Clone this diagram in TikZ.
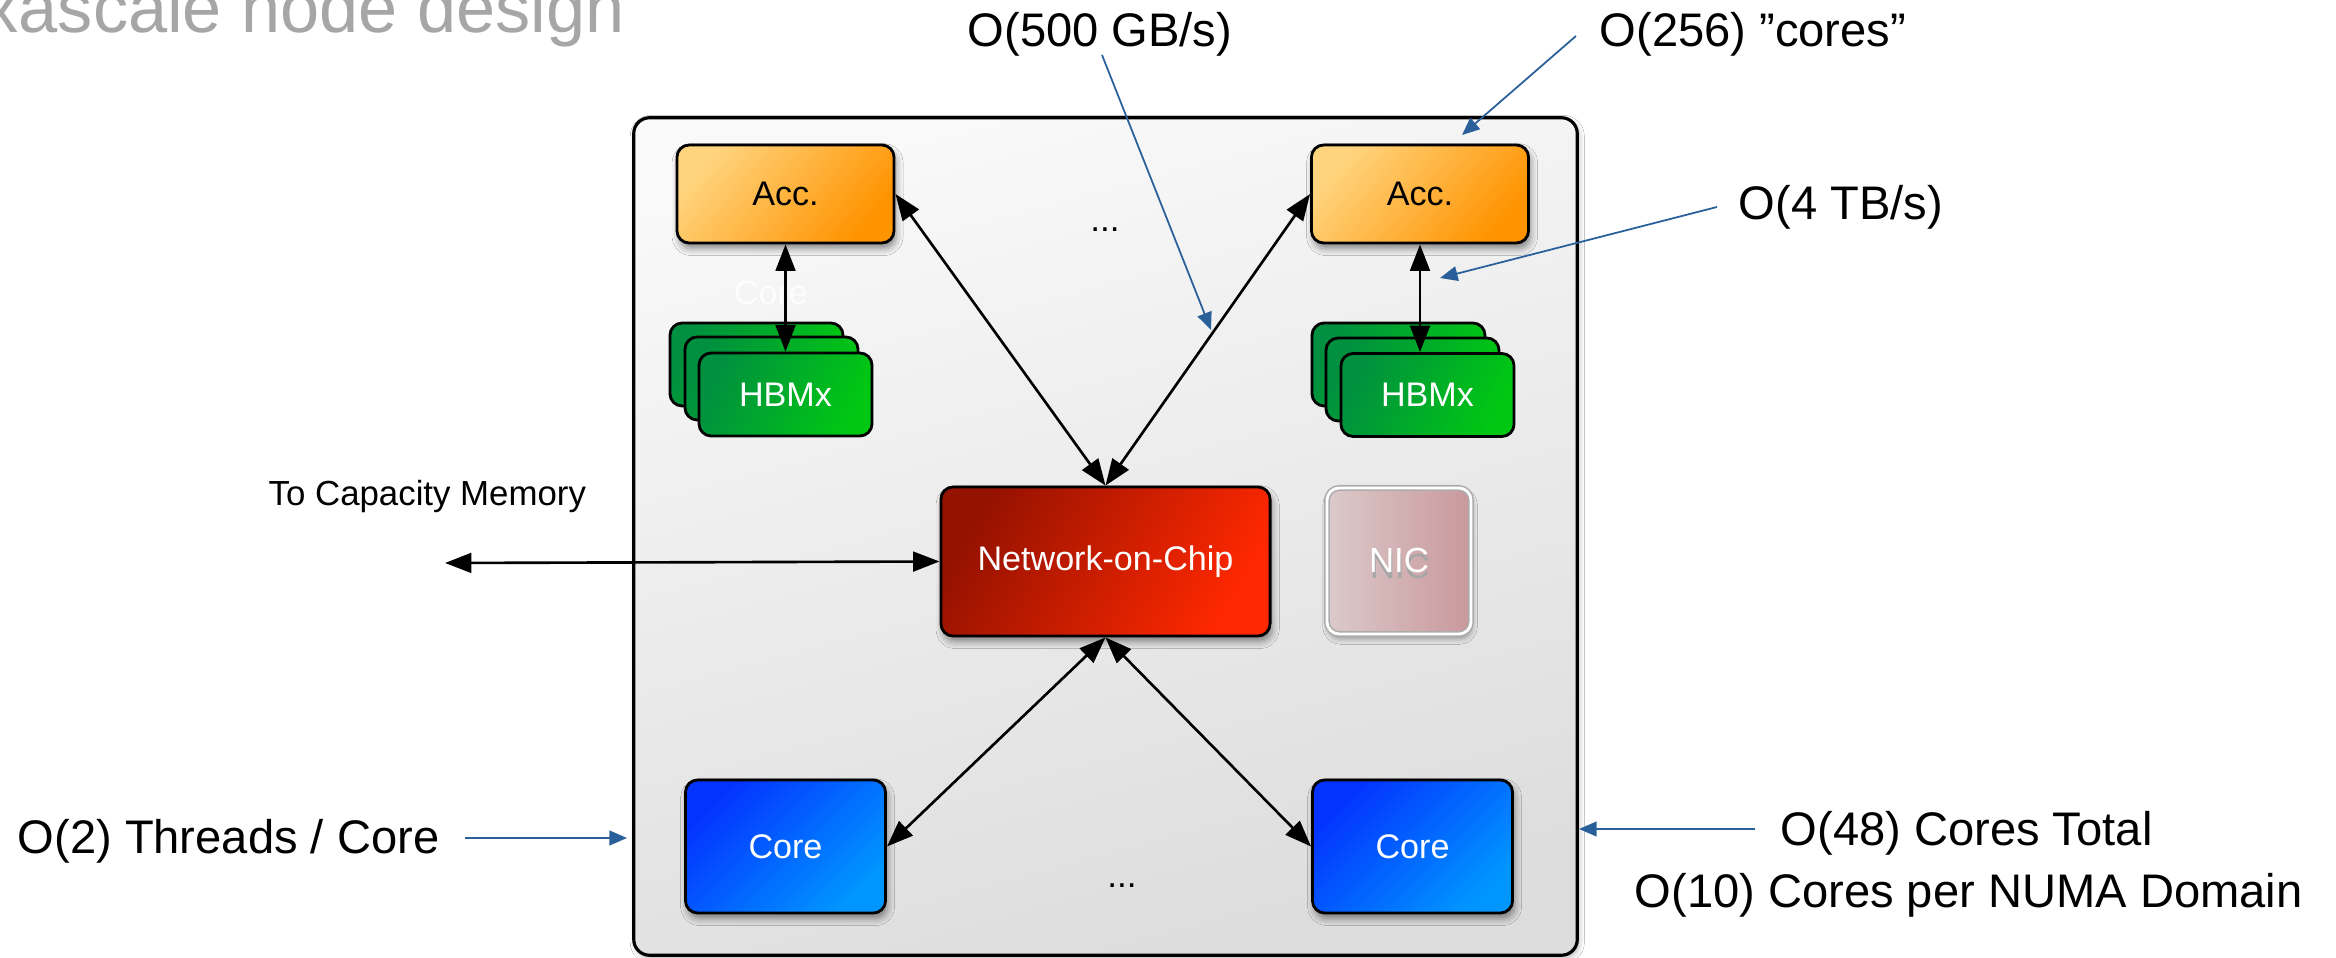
\documentclass[tikz,border=0pt]{standalone}
\usepackage{fontspec}
\setmainfont{Liberation Sans}
\usetikzlibrary{arrows.meta,shadows.blur}

\definecolor{titlegray}{HTML}{A6A6A6}
\definecolor{annot}{HTML}{2A6099}
\definecolor{accA}{HTML}{FFD47E}
\definecolor{accB}{HTML}{FF9300}
\definecolor{hbmA}{HTML}{00903F}
\definecolor{hbmB}{HTML}{00C812}
\definecolor{nocA}{HTML}{961200}
\definecolor{nocB}{HTML}{FF2800}
\definecolor{coreA}{HTML}{0433FF}
\definecolor{coreB}{HTML}{0096FF}
\definecolor{nicA}{HTML}{DCCACA}
\definecolor{nicB}{HTML}{C9989C}

\begin{document}
\begin{tikzpicture}[x=0.01cm,y=-0.01cm,
  unit/.style={draw=black, line width=0.8pt, rounded corners=3.5pt, inner sep=0pt,
    font=\fontsize{9.7}{11.5}\selectfont},
  dropped/.style={blur shadow={shadow xshift=0.6pt, shadow yshift=-1.6pt, shadow blur radius=2pt, shadow opacity=45}},
  accbox/.style={unit, dropped, minimum width=2.17cm, minimum height=0.98cm, text=black,
    top color=accA, bottom color=accB, shading angle=50},
  hbmbox/.style={unit, minimum width=1.73cm, minimum height=0.83cm, text=white,
    top color=hbmA, bottom color=hbmB, shading angle=65},
  nocbox/.style={unit, dropped, minimum width=3.29cm, minimum height=1.49cm, text=white,
    top color=nocA, bottom color=nocB, shading angle=60},
  corebox/.style={unit, dropped, minimum width=2.0cm, minimum height=1.33cm, text=white,
    top color=coreA, bottom color=coreB, shading angle=45},
  nicbox/.style={draw=gray!65, line width=0.45pt, double=white, double distance=0.8pt,
    rounded corners=3.5pt, inner sep=0pt, minimum width=1.44cm, minimum height=1.46cm,
    left color=nicA, right color=nicB,
    blur shadow={shadow xshift=0.3pt, shadow yshift=-1.4pt, shadow blur radius=1.5pt, shadow opacity=35}},
  chipbox/.style={draw=black, line width=0.9pt, rounded corners=4.5pt, inner sep=0pt,
    minimum width=9.43cm, minimum height=8.37cm,
    top color=gray!5, bottom color=gray!27, shading angle=15,
    blur shadow={shadow xshift=0.5pt, shadow yshift=-0.8pt, shadow blur radius=1.5pt, shadow opacity=30}},
  link/.style={line width=0.75pt, {Triangle[length=7.5pt,width=5.6pt]}-{Triangle[length=7.5pt,width=5.6pt]}},
  callout/.style={draw=annot, line width=0.5pt, -{Triangle[length=5pt,width=4.2pt]}},
  annotext/.style={font=\fontsize{13.4}{16}\selectfont, inner sep=0pt, text=black},
  smalltext/.style={font=\fontsize{9.9}{11.5}\selectfont, inner sep=0pt, text=black},
  dots/.style={font=\fontsize{10}{12}\selectfont, inner sep=0pt, text=black}
]
\useasboundingbox (0,0) rectangle (2336,958);
\fill[white] (0,0) rectangle (2336,958);

% heading
\node[anchor=base west, inner sep=0pt, text=titlegray, font=\fontsize{20}{24}\selectfont]
  (title) at (-64,33) {Exascale node design};

% the chip package
\node[chipbox] (chip) at (1105.5,536.5) {};

% accelerators
\node[accbox] (accL) at (785.5,194) {Acc.};
\node[accbox] (accR) at (1420,194) {Acc.};
\node[dots] (dotsT) at (1105,230) {...};

% stacked HBM
\node[hbmbox] (hbmL3) at (756.5,364.5) {};
\node[hbmbox] (hbmL2) at (771.5,378.5) {};
\node[hbmbox] (hbmL) at (785.5,394.5) {HBMx};
\node[hbmbox] (hbmR3) at (1398.5,364.5) {};
\node[hbmbox] (hbmR2) at (1412.5,379.5) {};
\node[hbmbox] (hbmR) at (1427.5,395) {HBMx};

\node[inner sep=0pt, text=white, opacity=0.85, font=\fontsize{9.7}{11.5}\selectfont, anchor=base]
  (ghost) at (771,305) {Core};

% interconnect and NIC
\node[nocbox] (noc) at (1105.5,561.5) {Network-on-Chip};
\node[nicbox] (nic) at (1399,561) {};
\node[text=gray!70, font=\fontsize{9.9}{11.5}\selectfont, inner sep=0pt] (nicshade) at (1400,567) {NIC};
\node[text=white, font=\fontsize{9.9}{11.5}\selectfont, inner sep=0pt] (nictext) at (1399,561) {NIC};

% cores
\node[corebox] (coreL) at (785.5,846.5) {Core};
\node[corebox] (coreR) at (1412.5,846.5) {Core};
\node[dots] (dotsB) at (1122,886) {...};

% on-chip links
\draw[link] (accL.east) -- (noc.north);
\draw[link] (accR.west) -- (noc.north);
\draw[link] (accL.south) -- (hbmL.north);
\draw[link] (accR.south) -- (accR.south |- hbmR.north);
\draw[link] (noc.south) -- (coreL.east);
\draw[link] (noc.south) -- (coreR.west);
\coordinate (memport) at (445,563);
\draw[link] (memport) -- (noc.west);
\node[smalltext, anchor=base west] (capmem) at (268,505) {To Capacity Memory};

% annotations
\node[annotext, anchor=base] (rate1) at (1100,47) {O(500 GB/s)};
\node[annotext, anchor=base west] (cores) at (1599,47) {O(256) ”cores”};
\node[annotext, anchor=base west] (rate2) at (1738,220) {O(4 TB/s)};
\node[annotext, anchor=base west] (threads) at (17,853) {O(2) Threads / Core};
\node[annotext, anchor=base west] (total1) at (1780,845) {O(48) Cores Total};
\node[annotext, anchor=base west] (total2) at (1634,907) {O(10) Cores per NUMA Domain};

\coordinate (r1a) at (1102,55);  \coordinate (r1b) at (1211,330);
\coordinate (c1a) at (1576,36);  \coordinate (c1b) at (1462,135);
\coordinate (r2a) at (1717,207); \coordinate (r2b) at (1440,278);
\coordinate (t1a) at (465,838);  \coordinate (t1b) at (627,838);
\coordinate (n1a) at (1755,829); \coordinate (n1b) at (1579,829);
\draw[callout] (r1a) -- (r1b);
\draw[callout] (c1a) -- (c1b);
\draw[callout] (r2a) -- (r2b);
\draw[callout] (t1a) -- (t1b);
\draw[callout] (n1a) -- (n1b);
\end{tikzpicture}
\end{document}
